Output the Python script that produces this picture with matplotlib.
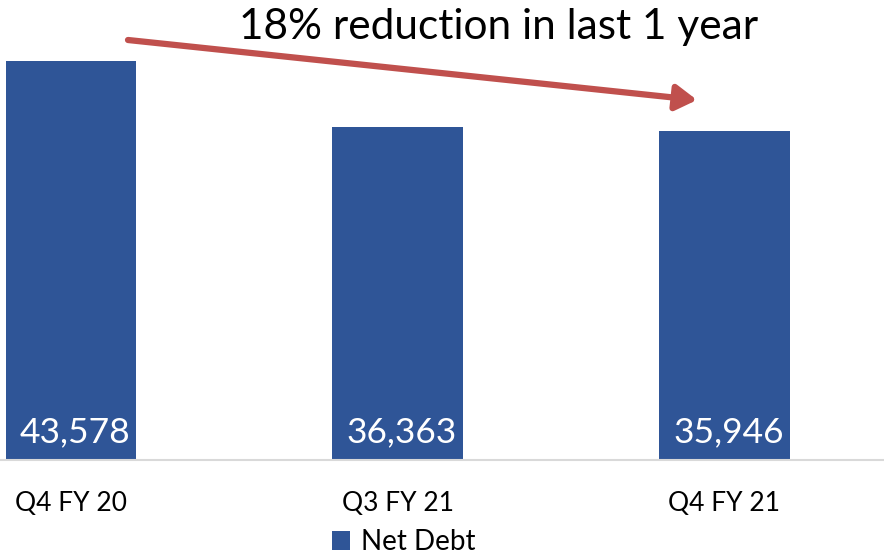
import matplotlib.pyplot as plt
import numpy as np

plt.rcParams['font.family'] = ['Lato', 'DejaVu Sans']

quarters = ['Q4 FY 20', 'Q3 FY 21', 'Q4 FY 21']
net_debt = [43578, 36363, 35946]
series_name = 'Net Debt'
headline = '18% reduction in last 1 year'

bar_color = '#2F5597'
arrow_color = '#C0504D'

fig = plt.figure(figsize=(8.84, 5.58), dpi=100)
# axes runs off the left edge, like the cropped original
ax = fig.add_axes([-92.4 / 884, 98 / 558, 980 / 884, 457.8 / 558])

x = np.arange(len(quarters))
bars = ax.bar(x, net_debt, width=0.40, color=bar_color, label=series_name, zorder=2)

for xi, v in zip(x, net_debt):
    ax.annotate(f'{v:,}', xy=(xi, 0), xytext=(3, 13), textcoords='offset points',
                ha='center', va='baseline', color='white', fontsize=25.5)

ax.set_xlim(-0.5, 2.5)
ax.set_ylim(0, 50000)
ax.set_xticks(x)
ax.set_xticklabels(quarters, fontsize=19)
ax.tick_params(axis='x', length=0, pad=22)
ax.set_yticks([])
for s in ['top', 'right', 'left']:
    ax.spines[s].set_visible(False)
ax.spines['bottom'].set_color('#D9D9D9')
ax.spines['bottom'].set_linewidth(1.5)

fig.text(499 / 884, 1 - 27 / 558, headline, ha='center', va='center', fontsize=30.5)

fig.patches.append(plt.matplotlib.patches.FancyArrowPatch(
    (128 / 884, 1 - 40 / 558), (697 / 884, 1 - 100 / 558),
    transform=fig.transFigure, arrowstyle='-|>,head_length=0.9,head_width=0.55',
    mutation_scale=14, color=arrow_color, lw=4.5, shrinkA=0, shrinkB=0))

fig.legend(handles=[bars], labels=[series_name], loc='center',
           bbox_to_anchor=(404 / 884, 1 - 542 / 558), frameon=False, fontsize=20,
           handlelength=0.65, handleheight=0.65, handletextpad=0.4)

plt.savefig('out.png', dpi=100)
